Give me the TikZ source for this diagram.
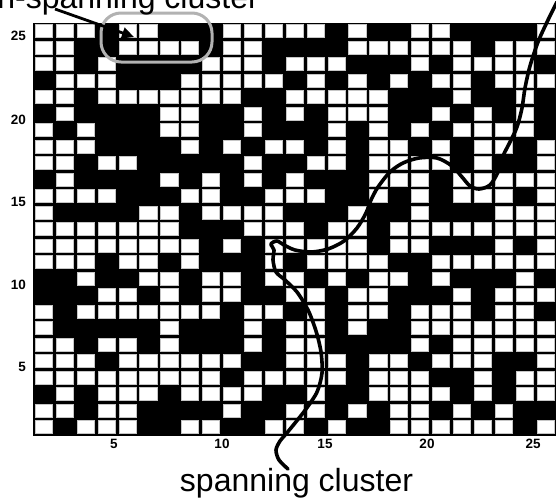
\documentclass[tikz,border=0pt]{standalone}
\usepackage{fontspec}
\setmainfont{Liberation Sans}
\usetikzlibrary{arrows.meta}
\begin{document}
\begin{tikzpicture}[x=1pt,y=-1pt,
  cellw/.style={fill=white, draw=gray!45, line width=0.6pt},
  axlab/.style={font=\fontsize{13.5}{13.5}\selectfont\bfseries, inner sep=0pt},
  captext/.style={font=\fontsize{32}{32}\selectfont, inner sep=0pt},
  clusterpath/.style={line width=3.6pt, line cap=round, line join=round},
  pointer/.style={line width=2.8pt, -{Triangle[length=12pt,width=11pt]}},
  ovalbox/.style={draw=gray!60, line width=3pt, rounded corners=20pt}]
\fill[white] (0,0) rectangle (556,501);
\useasboundingbox (0,0) rectangle (556,501);
% lattice
\fill[black] (33,22.5) rectangle (556,436);
\foreach \r/\cl in {
 1/{1,2,3,5,6,10,11,12,13,14,16,19,20,25},
 2/{1,2,5,6,7,8,10,11,16,17,18,19,20,21,23,24,25},
 3/{1,2,4,9,10,11,13,14,15,19,21,22,23,24},
 4/{2,3,4,8,9,10,11,12,14,16,18,20,21,23,24,25},
 5/{1,2,4,5,6,7,8,9,10,13,14,15,16,17,21,24},
 6/{2,7,8,11,13,15,16,17,20,22,24},
 7/{1,3,7,8,11,15,17,19,21,22,23,24},
 8/{1,2,3,8,10,12,13,15,17,18,20,22,23,25},
 9/{1,2,4,5,11,14,15,17,18,19,20,22,25},
 10/{2,7,9,11,13,17,18,19,21,22,23,24,25},
 11/{1,2,3,4,8,9,12,13,14,17,19,21,22,23,25},
 12/{1,6,7,9,10,11,12,16,19,23,24,25},
 13/{1,2,3,4,5,6,7,11,12,13,15,16,18,19,20,21,22,23,24,25},
 14/{1,2,3,4,5,6,7,8,10,12,13,14,15,16,18,19,23,25},
 15/{1,2,3,5,6,8,12,14,15,16,17,20,21,22,23,24,25},
 16/{3,6,7,9,10,12,13,15,17,18,20,24},
 17/{4,5,7,9,10,13,14,16,17,21,23,24,25},
 18/{1,3,4,5,6,7,8,9,11,12,14,16,17,19,20,21,23,24},
 19/{1,7,11,13,14,16,19,20,21,22,23,24,25},
 20/{1,2,4,5,7,11,13,14,19,21,22,23,24,25},
 21/{1,2,3,5,6,7,8,9,10,13,14,15,17,18,20,21,22,25},
 22/{1,2,3,4,5,6,7,8,9,11,12,13,14,15,17,18,19,22,24,25},
 23/{2,4,5,6,8,9,10,11,14,17,18,19,20,22,24,25},
 24/{1,2,4,5,10,13,14,16,18,19,21,23},
 25/{1,3,4,5,8,9,12,13,15,18,19,20,21,22,23,25}}{
  \foreach \c in \cl {
    \path[cellw] ({33+(\c-1)*20.9+2.2},{22.5+(\r-1)*16.5+2.0}) rectangle ++(17.2,12.8);
  }
}
% axis labels
\node[axlab, anchor=east] (y25) at (26,36) {25};
\node[axlab, anchor=east] (y20) at (26,119.5) {20};
\node[axlab, anchor=east] (y15) at (26,202) {15};
\node[axlab, anchor=east] (y10) at (26,284.5) {10};
\node[axlab, anchor=east] (y5) at (26,367) {5};
\node[axlab] (x5) at (114,444) {5};
\node[axlab] (x10) at (222,444) {10};
\node[axlab] (x15) at (325,444) {15};
\node[axlab] (x20) at (427,444) {20};
\node[axlab] (x25) at (533,444) {25};
% non-spanning cluster marker
\draw[ovalbox] (101,13) rectangle (212,62);
\node[captext, anchor=base east] (topcap) at (259,8) {non-spanning cluster};
\coordinate (astart) at (55,9);
\coordinate (atip) at (134,37);
\draw[pointer] (astart) -- (atip);
% spanning cluster path
\draw[clusterpath] plot[smooth, tension=0.5] coordinates {
 (288,469) (279,460) (276,450) (280,441) (286,434) (295,423) (306,409)
 (317,392) (322,373) (321,352) (316,331) (308,310) (297,292) (285,280)
 (276,272) (273,260) (274,250) (271,244) (277,241) (284,245) (295,250)
 (311,252) (328,249) (344,241) (357,228) (366,213) (371,200) (378,187)
 (390,172) (403,163) (419,158) (437,158) (452,166) (462,177) (470,186)
 (479,189) (490,185) (498,172) (503,156) (510,142) (517,127) (522,108)
 (525,88) (530,66) (538,42) (548,20) (557,2)};
\node[captext, anchor=base] (botcap) at (296.5,491) {spanning cluster};
\end{tikzpicture}
\end{document}
